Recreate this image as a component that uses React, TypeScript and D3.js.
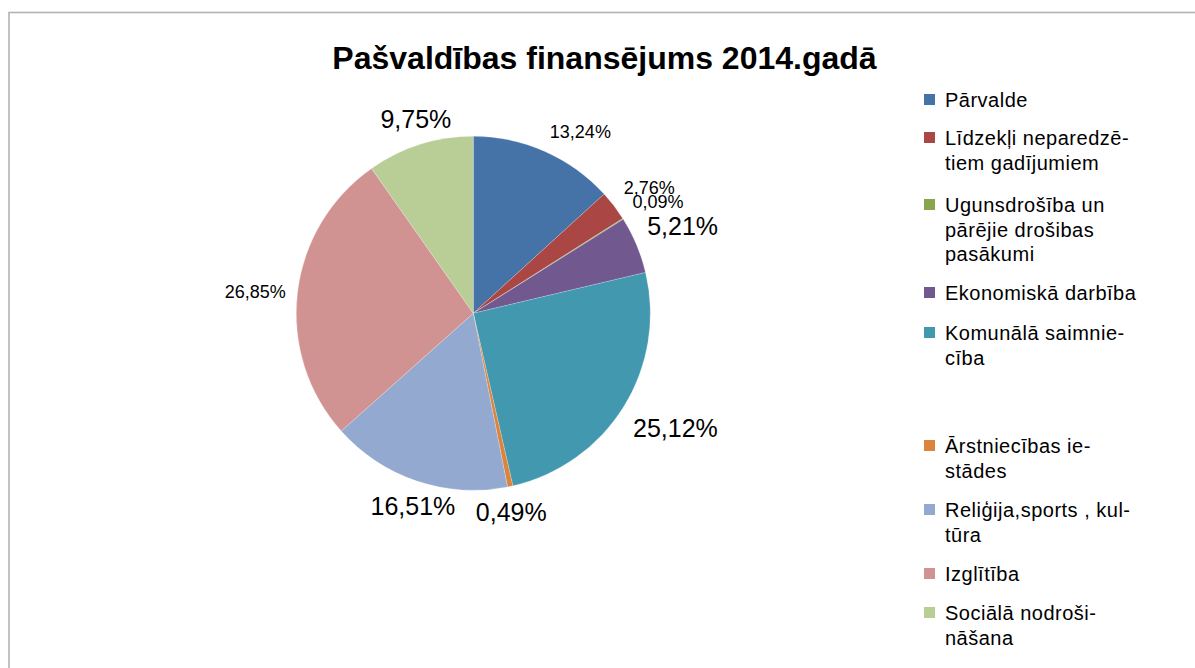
import React from "react";
import * as d3 from "d3";

// ---- data ----
const categories: string[][] = [
  ["Pārvalde"],
  ["Līdzekļi neparedzē-", "tiem gadījumiem"],
  ["Ugunsdrošība un", "pārējie drošibas", "pasākumi"],
  ["Ekonomiskā darbība"],
  ["Komunālā saimnie-", "cība"],
  ["Ārstniecības ie-", "stādes"],
  ["Reliģija,sports , kul-", "tūra"],
  ["Izglītība"],
  ["Sociālā nodroši-", "nāšana"],
];
const values: number[] = [13.24, 2.76, 0.09, 5.21, 25.12, 0.49, 16.51, 26.85, 9.75];
const valueLabels: string[] = ["13,24%", "2,76%", "0,09%", "5,21%", "25,12%", "0,49%", "16,51%", "26,85%", "9,75%"];
const colors: string[] = ["#4572A7", "#AA4643", "#89A54E", "#71588F", "#4198AF", "#DB843D", "#93A9CF", "#D19392", "#B9CD96"];
const title = "Pašvaldības finansējums 2014.gadā";

// ---- layout ----
const W = 1195;
const H = 668;
const CX = 473.3;
const CY = 313.3;
const R = 177;
const LABEL_GAP = 8;
const labelFont = [18, 18, 18, 25, 25, 25, 25, 18, 25];
const labelNudge: [number, number][] = [
  [20, -7], [8.6, -9.6], [6.6, -9.4], [6, -12.4], [9, 12], [-8, 9], [12, 9], [-4, 0.5], [9, -9],
];
const LEGEND_X = 924;
const LEGEND_TEXT_X = 945;
const LEGEND_Y = [107, 145, 212, 300, 340, 453, 517, 581, 620];
const LEGEND_LH = 24.5;

const charW: Record<string, number> = { ",": 0.278, "%": 0.889, ".": 0.278 };
function approxWidth(s: string, fs: number) {
  let w = 0;
  for (const ch of s) w += charW[ch] ?? 0.556;
  return w * fs;
}

export default function App() {
  const pie = d3.pie<number>().sort(null).value((d) => d);
  const arcs = pie(values);
  const arc = d3.arc<d3.PieArcDatum<number>>().innerRadius(0).outerRadius(R);
  const font = "'Liberation Sans', Arial, sans-serif";

  return (
    <svg
      width={W}
      height={H}
      style={{ position: "absolute", left: 0, top: 0, background: "#fff" }}
      fontFamily={font}
    >
      <rect x={0} y={0} width={W} height={H} fill="#fff" />
      <rect x={9} y={12.5} width={W + 20} height={H + 20} fill="none" stroke="#b3b3b3" strokeWidth={1.6} />
      <text x={604.5} y={69} textAnchor="middle" fontSize={32} fontWeight="bold" fill="#000">
        {title}
      </text>
      <g transform={`translate(${CX},${CY})`}>
        {arcs.map((a, i) => (
          <path key={i} d={arc(a) || ""} fill={colors[i]} stroke="#ffffff" strokeOpacity={0.35} strokeWidth={0.6} />
        ))}
        {arcs.map((a, i) => {
          const mid = (a.startAngle + a.endAngle) / 2;
          const s = Math.sin(mid);
          const c = Math.cos(mid);
          const fs = labelFont[i];
          const w = approxWidth(valueLabels[i], fs);
          const h2 = fs * 0.36;
          const px = s * (R + LABEL_GAP);
          const py = -c * (R + LABEL_GAP);
          const cx = px + s * (w / 2) + labelNudge[i][0];
          const cy = py - c * h2 + labelNudge[i][1];
          return (
            <text key={i} x={cx} y={cy + h2} textAnchor="middle" fontSize={fs} fill="#000">
              {valueLabels[i]}
            </text>
          );
        })}
      </g>
      <g>
        {categories.map((lines, i) => (
          <g key={i}>
            <rect x={LEGEND_X} y={LEGEND_Y[i] - 13} width={11} height={11} fill={colors[i]} />
            <text fontSize={20} letterSpacing={0.5} fill="#000">
              {lines.map((ln, j) => (
                <tspan key={j} x={LEGEND_TEXT_X} y={LEGEND_Y[i] + j * LEGEND_LH}>
                  {ln}
                </tspan>
              ))}
            </text>
          </g>
        ))}
      </g>
    </svg>
  );
}
